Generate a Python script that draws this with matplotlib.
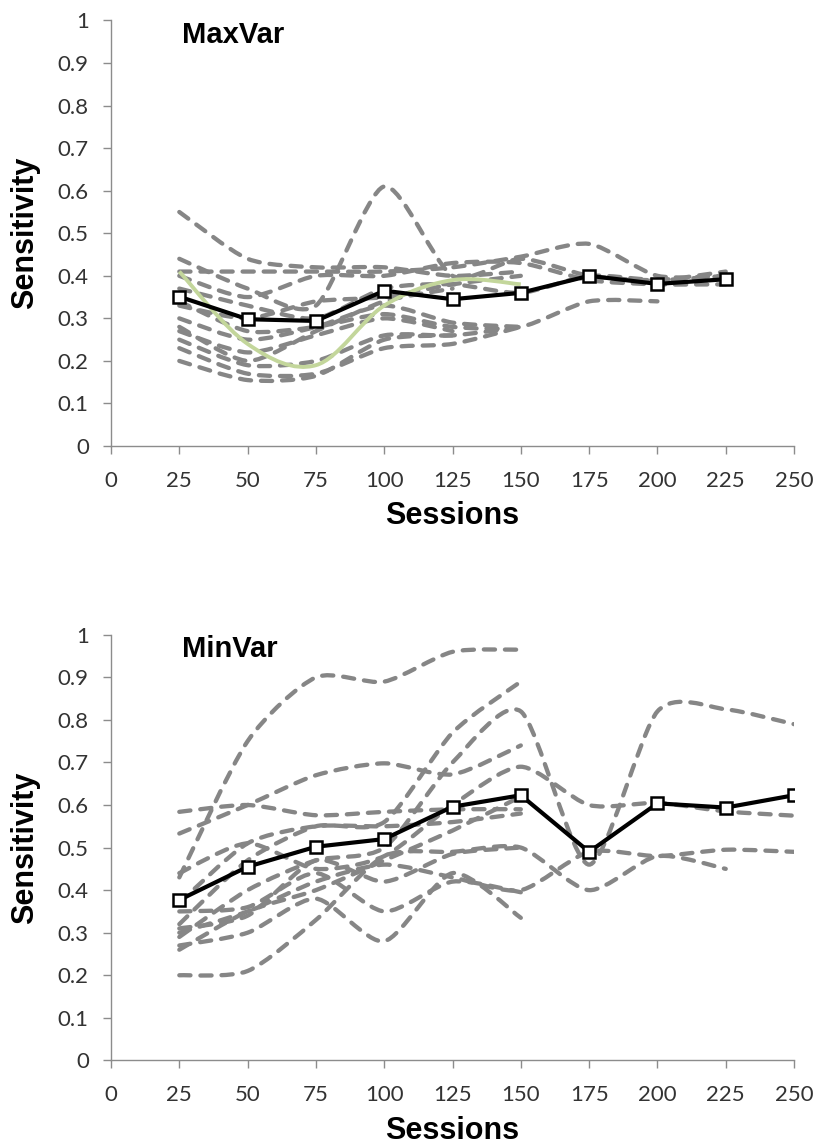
import matplotlib
matplotlib.use("Agg")
import matplotlib.pyplot as plt
from matplotlib.path import Path
from matplotlib.patches import PathPatch

sessions = [25, 50, 75, 100, 125, 150, 175, 200, 225, 250]

# MaxVar panel
maxvar_mean = [0.351, 0.298, 0.294, 0.365, 0.345, 0.360, 0.400, 0.381, 0.392]
maxvar_green = [0.41, 0.24, 0.19, 0.33, 0.39, 0.38]
maxvar_subjects = [
    [0.55, 0.44, 0.42, 0.42, 0.40, 0.41],
    [0.44, 0.37, 0.33, 0.61, 0.40, 0.44, 0.40, 0.39, 0.41],
    [0.41, 0.41, 0.41, 0.41, 0.42, 0.445, 0.475, 0.40, 0.40],
    [0.40, 0.35, 0.40, 0.40, 0.43, 0.43, 0.39, 0.38, 0.38],
    [0.37, 0.33, 0.30, 0.37, 0.38, 0.36, 0.40, 0.39, 0.40],
    [0.33, 0.30, 0.34, 0.35, 0.38, 0.40],
    [0.34, 0.27, 0.28, 0.31, 0.28, 0.28, 0.34, 0.34],
    [0.30, 0.25, 0.28, 0.33, 0.29, 0.28],
    [0.27, 0.22, 0.26, 0.30, 0.27],
    [0.25, 0.19, 0.20, 0.26, 0.26, 0.28],
    [0.23, 0.17, 0.17, 0.23, 0.24, 0.28],
    [0.20, 0.155, 0.165, 0.25, 0.26],
    [0.28, 0.20, 0.27, 0.34, 0.37],
]

# MinVar panel
minvar_mean = [0.377, 0.455, 0.502, 0.52, 0.596, 0.623, 0.49, 0.604, 0.594, 0.623]
minvar_subjects = [
    [0.43, 0.75, 0.90, 0.89, 0.96, 0.965],
    [0.32, 0.47, 0.55, 0.56, 0.77, 0.89],
    [0.29, 0.40, 0.47, 0.50, 0.70, 0.82, 0.46, 0.82, 0.825, 0.79],
    [0.533, 0.60, 0.67, 0.698, 0.672, 0.74],
    [0.584, 0.60, 0.576, 0.584, 0.59, 0.59],
    [0.44, 0.51, 0.45, 0.48, 0.60, 0.69, 0.60, 0.605, 0.585, 0.575],
    [0.20, 0.21, 0.33, 0.48, 0.49, 0.50, 0.40, 0.48, 0.45],
    [0.27, 0.30, 0.38, 0.28, 0.44, 0.335],
    [0.30, 0.35, 0.42, 0.46, 0.43, 0.40, 0.49, 0.48, 0.495, 0.49],
    [0.37, 0.51, 0.55, 0.55, 0.56, 0.58],
    [0.35, 0.36, 0.44, 0.35, 0.42, 0.395],
    [0.31, 0.34, 0.47, 0.42, 0.485, 0.50],
    [0.26, 0.35, 0.40, 0.47, 0.54, 0.62],
]

GREY = "#868686"
GREEN = "#c3d69b"
TICK_FONT = ["Lato", "DejaVu Sans"]
BOLD_FONT = ["Liberation Sans", "DejaVu Sans"]


def smooth_curve(xs, ys, k=8.0):
    # bezier through the points, like a spreadsheet "smoothed line"
    n = len(xs)
    verts = [(xs[0], ys[0])]
    codes = [Path.MOVETO]
    for i in range(n - 1):
        x0, y0 = xs[max(i - 1, 0)], ys[max(i - 1, 0)]
        x1, y1 = xs[i], ys[i]
        x2, y2 = xs[i + 1], ys[i + 1]
        x3, y3 = xs[min(i + 2, n - 1)], ys[min(i + 2, n - 1)]
        verts.append((x1 + (x2 - x0) / k, y1 + (y2 - y0) / k))
        verts.append((x2 - (x3 - x1) / k, y2 - (y3 - y1) / k))
        verts.append((x2, y2))
        codes += [Path.CURVE4] * 3
    return Path(verts, codes)


def draw_panel(ax, subjects, mean, name, green=None):
    for ys in subjects:
        xs = sessions[:len(ys)]
        p = PathPatch(smooth_curve(xs, ys), fill=False, edgecolor=GREY,
                      lw=3.1, linestyle=(0, (2.6, 2.3)), capstyle="round")
        ax.add_patch(p)
    if green is not None:
        xs = sessions[:len(green)]
        ax.add_patch(PathPatch(smooth_curve(xs, green, k=6.0), fill=False,
                               edgecolor=GREEN, lw=2.8))
    ax.plot(sessions[:len(mean)], mean, color="black", lw=3,
            marker="s", ms=8.5, mfc="white", mec="black", mew=1.8, zorder=5)

    ax.set_xlim(0, 250)
    ax.set_ylim(0, 1)
    ax.set_xticks(range(0, 251, 25))
    ax.set_yticks([i / 10 for i in range(11)])
    ax.set_yticklabels(["0", "0.1", "0.2", "0.3", "0.4", "0.5", "0.6",
                        "0.7", "0.8", "0.9", "1"])
    for s in ["top", "right"]:
        ax.spines[s].set_visible(False)
    for s in ["left", "bottom"]:
        ax.spines[s].set_color("#8c8c8c")
        ax.spines[s].set_linewidth(1.0)
    ax.tick_params(axis="both", colors="#8c8c8c", length=6, width=1,
                   labelcolor="#333333", labelsize=16)
    ax.tick_params(axis="x", pad=12)
    ax.tick_params(axis="y", pad=10)
    for lab in ax.get_xticklabels() + ax.get_yticklabels():
        lab.set_family(TICK_FONT)

    ax.set_xlabel("Sessions", fontsize=22, fontweight="bold", family=BOLD_FONT)
    ax.set_ylabel("Sensitivity", fontsize=22, fontweight="bold", family=BOLD_FONT)
    ax.xaxis.set_label_coords(0.5, -0.13)
    ax.yaxis.set_label_coords(-0.104, 0.5)
    ax.text(0.104, 0.948, name, transform=ax.transAxes, fontsize=21,
            fontweight="bold", family=BOLD_FONT, va="baseline", ha="left")


fig = plt.figure(figsize=(8.18, 11.44), dpi=100)
ax1 = fig.add_axes([0.1357, 0.6101, 0.835, 0.372])
ax2 = fig.add_axes([0.1357, 0.0731, 0.835, 0.372])

draw_panel(ax1, maxvar_subjects, maxvar_mean, "MaxVar", green=maxvar_green)
draw_panel(ax2, minvar_subjects, minvar_mean, "MinVar")

fig.savefig("out.png", dpi=100)
